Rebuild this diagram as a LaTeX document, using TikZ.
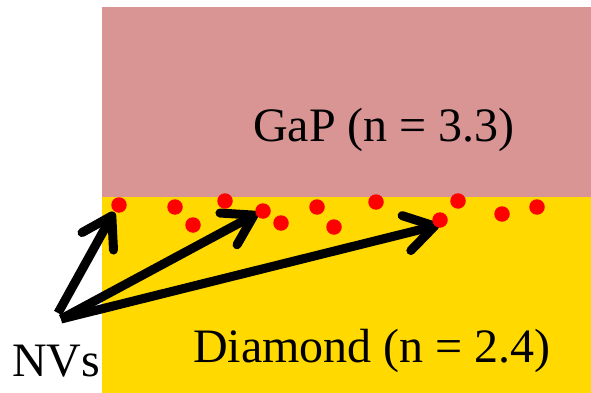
\documentclass[tikz,border=0pt]{standalone}
\usepackage{fontspec}
\setmainfont{Liberation Serif}
\usetikzlibrary{arrows.meta,backgrounds}
\definecolor{gapcol}{RGB}{217,149,148}
\definecolor{diacol}{RGB}{255,217,0}
\definecolor{nvred}{RGB}{255,0,0}
\tikzset{
  nvdot/.style={circle,fill=nvred,inner sep=0pt,minimum size=15.5pt},
  lbl/.style={anchor=base west,inner sep=0pt,font=\fontsize{48}{48}\selectfont},
  nvarrow/.style={line width=9pt,line cap=butt,-{Straight Barb[length=29pt,width=36pt,round]}}
}
\begin{document}
\begin{tikzpicture}[x=1pt,y=-1pt]
\useasboundingbox (0,0) rectangle (591,393);
% dots
\node[nvdot] (d1) at (119,205) {};
\node[nvdot] (d2) at (175,207) {};
\node[nvdot] (d3) at (193,225) {};
\node[nvdot] (d4) at (225,201) {};
\node[nvdot] (d5) at (263,211) {};
\node[nvdot] (d6) at (281,223) {};
\node[nvdot] (d7) at (317,207) {};
\node[nvdot] (d8) at (334,227) {};
\node[nvdot] (d9) at (376,202) {};
\node[nvdot] (d10) at (440,220) {};
\node[nvdot] (d11) at (458,201) {};
\node[nvdot] (d12) at (502,214) {};
\node[nvdot] (d13) at (537,207) {};
\coordinate (o) at (61,319);
\begin{scope}[on background layer]
\fill[gapcol] (102,7) rectangle (591,197);
\fill[diacol] (102,197) rectangle (591,393);
\draw[nvarrow] ([shift={(-3,-6)}]o) -- ([shift={(-5,7)}]d1.center);
\draw[nvarrow] (o) -- ([shift={(-5,2)}]d5.center);
\draw[nvarrow] (o) -- ([shift={(-1,5)}]d10.center);
\end{scope}
\node[lbl] (gap) at (253,142) {GaP (n = 3.3)};
\node[lbl] (dia) at (193,362) {Diamond (n = 2.4)};
\node[lbl] (nvs) at (12,376) {NVs};
\end{tikzpicture}
\end{document}
